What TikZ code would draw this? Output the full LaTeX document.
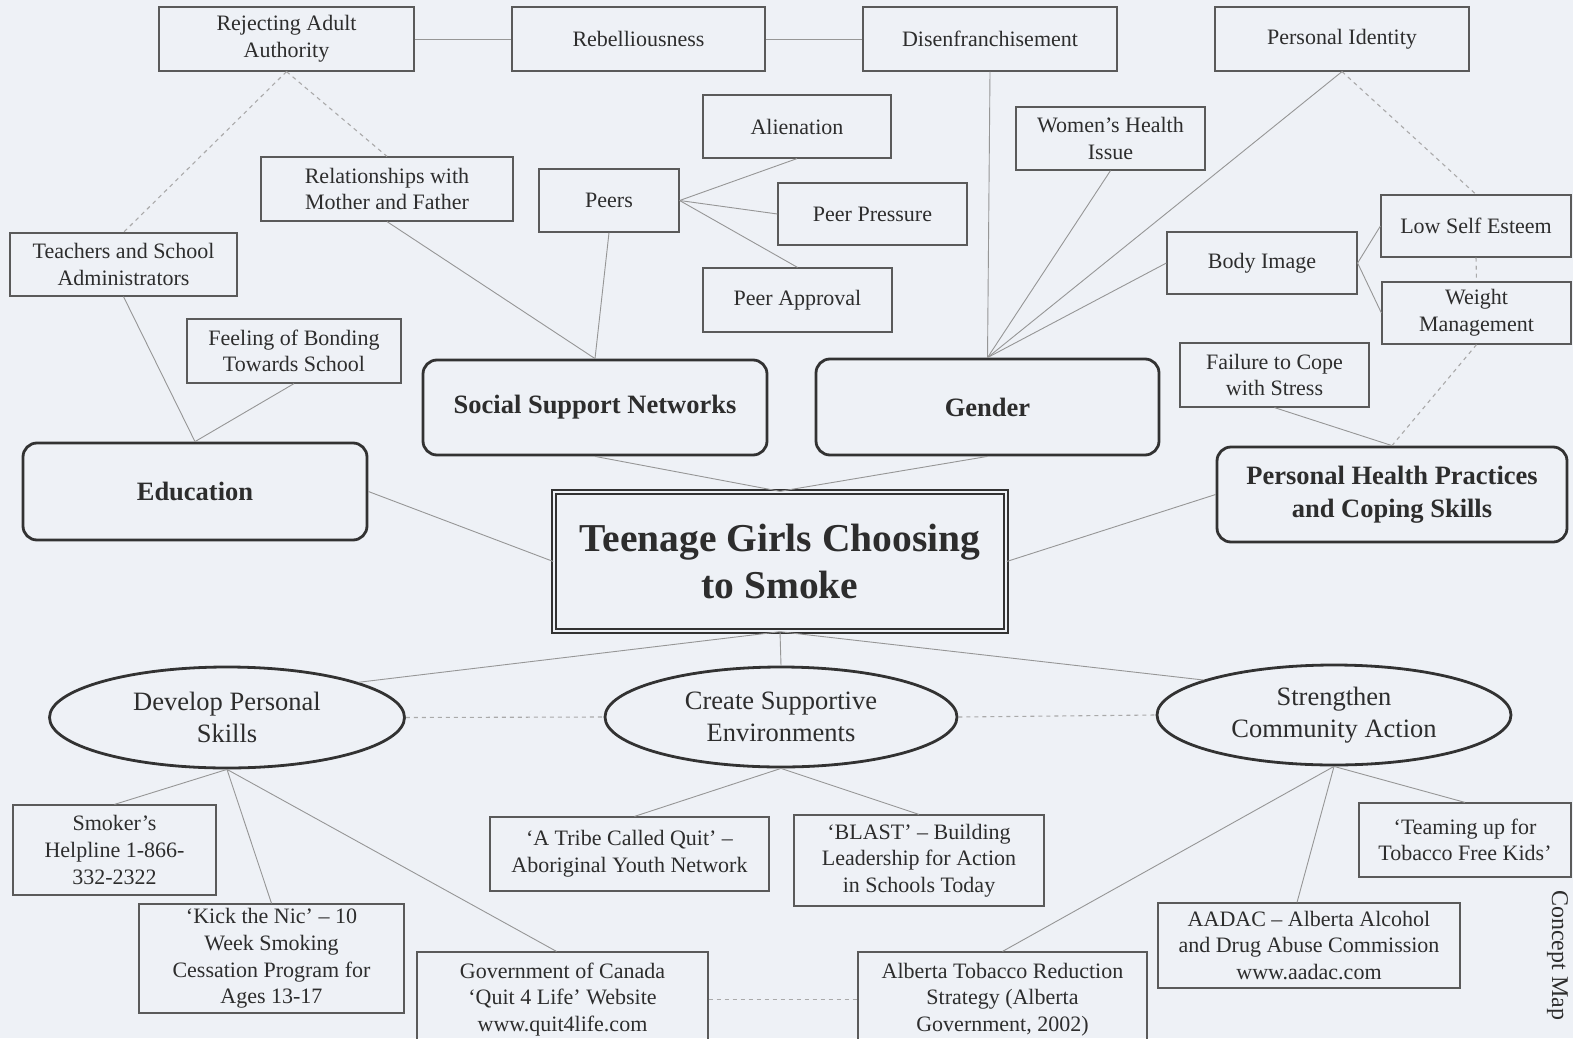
\documentclass[tikz,border=0pt]{standalone}
\usepackage{fontspec}
\setmainfont{Liberation Serif}
\usetikzlibrary{shapes.geometric}
\definecolor{bg}{RGB}{238,241,246}
\definecolor{boxline}{RGB}{90,90,90}
\definecolor{txt}{RGB}{45,45,45}
\definecolor{conn}{RGB}{150,150,150}
\definecolor{dashc}{RGB}{170,170,170}
\definecolor{heavy}{RGB}{50,50,50}
\begin{document}
\begin{tikzpicture}[x=1pt,y=-1pt,
 sbox/.style={draw=boxline, line width=1.2pt, align=center, inner sep=0pt, text=txt, font=\fontsize{22}{26.7}\selectfont},
 cat/.style={draw=heavy, line width=2.8pt, rounded corners=14pt, align=center, inner sep=0pt, text=txt, font=\bfseries\fontsize{26.5}{33}\selectfont},
 oval/.style={ellipse, draw=heavy, line width=2.8pt, align=center, inner sep=0pt, text=txt, font=\fontsize{26.5}{32}\selectfont},
 link/.style={draw=conn, line width=0.9pt},
 dlink/.style={draw=dashc, line width=1.1pt, dash pattern=on 4pt off 4pt},
]
\fill[bg] (0,0) rectangle (1573,1038);
\useasboundingbox (0,0) rectangle (1573,1038);

% top row
\node[sbox, minimum width=255pt, minimum height=64pt] (rej) at (286.5,39) {Rejecting Adult\\Authority};
\node[sbox, minimum width=253pt, minimum height=64pt] (reb) at (638.5,39) {Rebelliousness};
\node[sbox, minimum width=254pt, minimum height=64pt] (dis) at (990,39) {Disenfranchisement};
\node[sbox, minimum width=254pt, minimum height=64pt] (pid) at (1342,39) {Personal Identity};

% second level
\node[sbox, minimum width=188pt, minimum height=63pt] (ali) at (797,126.5) {Alienation};
\node[sbox, minimum width=189pt, minimum height=63pt] (wom) at (1110.5,138.5) {Women’s Health\\Issue};
\node[sbox, minimum width=252pt, minimum height=64pt] (rel) at (387,189) {Relationships with\\Mother and Father};
\node[sbox, minimum width=140pt, minimum height=63pt] (peers) at (609,200.5) {Peers};
\node[sbox, minimum width=189pt, minimum height=62pt] (pp) at (872.5,214) {Peer Pressure};
\node[sbox, minimum width=189pt, minimum height=64pt] (pa) at (797.5,300) {Peer Approval};
\node[sbox, minimum width=190pt, minimum height=62pt] (bi) at (1262,263) {Body Image};
\node[sbox, minimum width=190pt, minimum height=62pt] (low) at (1476,226) {Low Self Esteem};
\node[sbox, minimum width=189pt, minimum height=62pt] (wm) at (1476.5,313) {Weight\\Management};
\node[sbox, minimum width=227pt, minimum height=63pt] (tea) at (123.5,264.5) {Teachers and School\\Administrators};
\node[sbox, minimum width=214pt, minimum height=64pt] (feel) at (294,351) {Feeling of Bonding\\Towards School};
\node[sbox, minimum width=189pt, minimum height=64pt] (fail) at (1274.5,375) {Failure to Cope\\with Stress};

% categories
\node[cat, minimum width=344pt, minimum height=95pt] (ssn) at (595,407.5) {Social Support Networks};
\node[cat, minimum width=343pt, minimum height=96pt] (gen) at (987.5,407) {Gender};
\node[cat, minimum width=344pt, minimum height=97pt] (edu) at (195,491.5) {Education};
\node[cat, minimum width=350pt, minimum height=95pt] (php) at (1392,494.5) {Personal Health Practices\\and Coping Skills};

% centre
\node[draw=heavy, line width=1.4pt, double=bg, double distance=2.4pt, minimum width=452pt, minimum height=139pt, inner sep=0pt, align=center, text=txt, font=\bfseries\fontsize{39.5}{47}\selectfont] (cen) at (780,561.5) {Teenage Girls Choosing\\to Smoke};

% ellipses
\node[oval, minimum width=355pt, minimum height=101pt] (dev) at (227,717.5) {Develop Personal\\Skills};
\node[oval, minimum width=352pt, minimum height=100pt] (cre) at (781,717) {Create Supportive\\Environments};
\node[oval, minimum width=354pt, minimum height=100pt] (str) at (1334,715) {Strengthen\\Community Action};

% bottom boxes
\node[sbox, minimum width=203pt, minimum height=90pt] (smk) at (114.5,850) {Smoker’s\\Helpline 1-866-\\332-2322};
\node[sbox, minimum width=265pt, minimum height=109pt] (kick) at (271.5,958.5) {‘Kick the Nic’ – 10\\Week Smoking\\Cessation Program for\\Ages 13-17};
\node[sbox, minimum width=291pt, minimum height=95pt] (gov) at (562.5,999.5) {Government of Canada\\‘Quit 4 Life’ Website\\www.quit4life.com};
\node[sbox, minimum width=279pt, minimum height=74pt] (tribe) at (629.5,854) {‘A Tribe Called Quit’ –\\Aboriginal Youth Network};
\node[sbox, minimum width=250pt, minimum height=91pt] (blast) at (919,860.5) {‘BLAST’ – Building\\Leadership for Action\\in Schools Today};
\node[sbox, minimum width=289pt, minimum height=95pt] (alb) at (1002.5,999.5) {Alberta Tobacco Reduction\\Strategy (Alberta\\Government, 2002)};
\node[sbox, minimum width=302pt, minimum height=85pt] (aadac) at (1309,945.5) {AADAC – Alberta Alcohol\\and Drug Abuse Commission\\www.aadac.com};
\node[sbox, minimum width=212pt, minimum height=74pt] (team) at (1465,840) {‘Teaming up for\\Tobacco Free Kids’};

% side label
\node[rotate=-90, anchor=base, inner sep=0pt, text=txt, font=\fontsize{24}{24}\selectfont] (cmap) at (1552,955) {Concept Map};

% solid links
\draw[link] (rej.east) -- (reb.west);
\draw[link] (reb.east) -- (dis.west);
\draw[link] (rel.south) -- (ssn.north);
\draw[link] (peers.south) -- (ssn.north);
\draw[link] (peers.east) -- (ali.south);
\draw[link] (peers.east) -- (pp.west);
\draw[link] (peers.east) -- (pa.north);
\draw[link] (dis.south) -- (gen.north);
\draw[link] (wom.south) -- (gen.north);
\draw[link] (pid.south) -- (gen.north);
\draw[link] (bi.west) -- (gen.north);
\draw[link] (bi.east) -- (low.west);
\draw[link] (bi.east) -- (wm.west);
\draw[link] (fail.south) -- (php.north);
\draw[link] (tea.south) -- (edu.north);
\draw[link] (feel.south) -- (edu.north);
\draw[link] (edu.east) -- (cen.west);
\draw[link] (ssn.south) -- (cen.north);
\draw[link] (gen.south) -- (cen.north);
\draw[link] (php.west) -- (cen.east);
\draw[link] (cen.south) -- (dev.15);
\draw[link] (cen.south) -- (cre.north);
\draw[link] (cen.south) -- (str.165);
\draw[link] (dev.south) -- (smk.north);
\draw[link] (dev.south) -- (kick.north);
\draw[link] (dev.south) -- ([xshift=-6pt]gov.north);
\draw[link] (cre.south) -- ([xshift=5pt]tribe.north);
\draw[link] (cre.south) -- (blast.north);
\draw[link] (str.south) -- (alb.north);
\draw[link] (str.south) -- ([xshift=-12pt]aadac.north);
\draw[link] (str.south) -- (team.north);

% dashed links
\draw[dlink] (rej.south) -- (tea.north);
\draw[dlink] (rej.south) -- (rel.north);
\draw[dlink] (pid.south) -- (low.north);
\draw[dlink] (low.south) -- (wm.north);
\draw[dlink] (wm.south) -- (php.north);
\draw[dlink] (dev.east) -- (cre.west);
\draw[dlink] (cre.east) -- (str.west);
\draw[dlink] (gov.east) -- (alb.west);
\end{tikzpicture}
\end{document}
